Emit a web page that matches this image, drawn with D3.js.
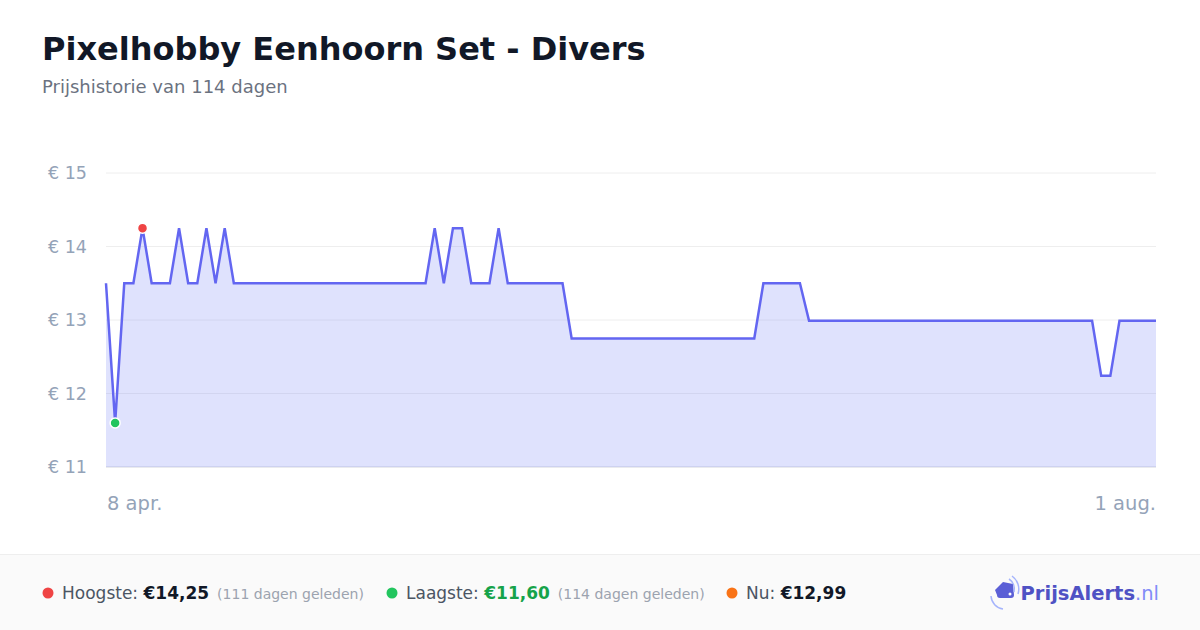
<!DOCTYPE html>
<html>
<head>
<meta charset="utf-8">
<script src="https://cdn.jsdelivr.net/npm/d3@7"></script>
<style>
  html, body { margin: 0; padding: 0; background: #ffffff; }
  svg { display: block; font-family: "DejaVu Sans", sans-serif; }
</style>
</head>
<body>
<div id="chart"></div>
<script>
// Price history, one value per day (8 apr. .. 1 aug.)
const prices = [
  13.50, 11.60, 13.50, 13.50, 14.25, 13.50, 13.50, 13.50, 14.25, 13.50,
  13.50, 14.25, 13.50, 14.25, 13.50, 13.50, 13.50, 13.50, 13.50, 13.50,
  13.50, 13.50, 13.50, 13.50, 13.50, 13.50, 13.50, 13.50, 13.50, 13.50,
  13.50, 13.50, 13.50, 13.50, 13.50, 13.50, 14.25, 13.50, 14.25, 14.25,
  13.50, 13.50, 13.50, 14.25, 13.50, 13.50, 13.50, 13.50, 13.50, 13.50,
  13.50, 12.75, 12.75, 12.75, 12.75, 12.75, 12.75, 12.75, 12.75, 12.75,
  12.75, 12.75, 12.75, 12.75, 12.75, 12.75, 12.75, 12.75, 12.75, 12.75,
  12.75, 12.75, 13.50, 13.50, 13.50, 13.50, 13.50, 12.99, 12.99, 12.99,
  12.99, 12.99, 12.99, 12.99, 12.99, 12.99, 12.99, 12.99, 12.99, 12.99,
  12.99, 12.99, 12.99, 12.99, 12.99, 12.99, 12.99, 12.99, 12.99, 12.99,
  12.99, 12.99, 12.99, 12.99, 12.99, 12.99, 12.99, 12.99, 12.99, 12.24,
  12.24, 12.99, 12.99, 12.99, 12.99, 12.99
];
const yTicks = [11, 12, 13, 14, 15];
const xLabels = ['8 apr.', '1 aug.'];

const title = 'Pixelhobby Eenhoorn Set - Divers';
const subtitle = 'Prijshistorie van 114 dagen';

const W = 1200, H = 630;
const plot = { left: 106, right: 1156, top: 173, bottom: 467 };

const svg = d3.select('#chart').append('svg')
  .attr('width', W)
  .attr('height', H);

// Title block
svg.append('text')
  .attr('x', 42).attr('y', 60)
  .attr('font-size', 32).attr('font-weight', 'bold')
  .attr('fill', '#111827')
  .text(title);

svg.append('text')
  .attr('x', 42).attr('y', 93)
  .attr('font-size', 18)
  .attr('fill', '#6b7280')
  .text(subtitle);

// Scales
const xScale = d3.scaleLinear()
  .domain([0, prices.length - 1])
  .range([plot.left, plot.right]);

const yScale = d3.scaleLinear()
  .domain([11, 15])
  .range([plot.bottom, plot.top]);

// Grid lines + y labels
const yAxis = svg.append('g');
yAxis.selectAll('line')
  .data(yTicks)
  .join('line')
  .attr('x1', plot.left).attr('x2', plot.right)
  .attr('y1', d => yScale(d)).attr('y2', d => yScale(d))
  .attr('stroke', d => d === 11 ? '#e2e3e8' : '#eeeeee')
  .attr('stroke-width', d => d === 11 ? 1.5 : 1);

yAxis.selectAll('text')
  .data(yTicks)
  .join('text')
  .attr('x', 87)
  .attr('y', d => yScale(d))
  .attr('dy', '0.35em')
  .attr('text-anchor', 'end')
  .attr('font-size', 17.5)
  .attr('fill', '#94a3b8')
  .text(d => '€ ' + d);

// Area and line
const area = d3.area()
  .x((d, i) => xScale(i))
  .y0(yScale(11))
  .y1(d => yScale(d));

const line = d3.line()
  .x((d, i) => xScale(i))
  .y(d => yScale(d));

// semi-transparent so the grid shows through, like the original
svg.append('path')
  .datum(prices)
  .attr('d', area)
  .attr('fill', '#818cf8')
  .attr('fill-opacity', 0.25);

svg.append('path')
  .datum(prices)
  .attr('d', line)
  .attr('fill', 'none')
  .attr('stroke', '#6366f1')
  .attr('stroke-width', 2.5)
  .attr('stroke-linejoin', 'miter');

// Max / min markers
const maxIdx = d3.maxIndex(prices);
const minIdx = d3.minIndex(prices);
[[maxIdx, '#ef4444'], [minIdx, '#22c55e']].forEach(([i, c]) => {
  svg.append('circle')
    .attr('cx', xScale(i))
    .attr('cy', yScale(prices[i]))
    .attr('r', 5)
    .attr('fill', c)
    .attr('stroke', '#ffffff')
    .attr('stroke-width', 1.5);
});

// X labels
svg.append('text')
  .attr('x', plot.left + 1).attr('y', 510)
  .attr('font-size', 19.5).attr('fill', '#94a3b8')
  .text(xLabels[0]);
svg.append('text')
  .attr('x', plot.right).attr('y', 510)
  .attr('text-anchor', 'end')
  .attr('font-size', 19.5).attr('fill', '#94a3b8')
  .text(xLabels[1]);

// Footer
svg.append('rect')
  .attr('x', 0).attr('y', 554)
  .attr('width', W).attr('height', H - 554)
  .attr('fill', '#fafafa');
svg.append('line')
  .attr('x1', 0).attr('x2', W)
  .attr('y1', 554.5).attr('y2', 554.5)
  .attr('stroke', '#eeeeee');

const fmt = v => '€' + v.toFixed(2).replace('.', ',');
const lastIdx = prices.length - 1;
const stats = [
  { x: 48, color: '#ef4444', label: 'Hoogste: ', value: fmt(prices[maxIdx]), valueColor: '#111827', note: '(' + (lastIdx - maxIdx) + ' dagen geleden)' },
  { x: 392, color: '#22c55e', label: 'Laagste: ', value: fmt(prices[minIdx]), valueColor: '#16a34a', note: '(' + (lastIdx - minIdx) + ' dagen geleden)' },
  { x: 732, color: '#f97316', label: 'Nu: ', value: fmt(prices[lastIdx]), valueColor: '#111827', note: '' }
];

stats.forEach(s => {
  svg.append('circle')
    .attr('cx', s.x).attr('cy', 593).attr('r', 5.5)
    .attr('fill', s.color);
  const t = svg.append('text')
    .attr('x', s.x + 14).attr('y', 599)
    .attr('font-size', 17);
  t.append('tspan').attr('fill', '#4b5563').text(s.label);
  t.append('tspan').attr('fill', s.valueColor).attr('font-weight', 'bold').text(s.value);
  if (s.note) {
    t.append('tspan').attr('dx', 8).attr('font-size', 14).attr('fill', '#9ca3af').text(s.note);
  }
});

// Logo
const logo = svg.append('g').attr('transform', 'translate(1004, 592)');
logo.append('path')
  .attr('d', 'M -9 -2 L -1 -10 L 9 -8 L 10 3 A 3 3 0 0 1 7 6 L -4 6 A 3 3 0 0 1 -7 3 Z')
  .attr('fill', '#5b5fd6');
logo.append('circle').attr('cx', 6).attr('cy', 2).attr('r', 1.5).attr('fill', '#ffffff');
logo.append('path')
  .attr('d', 'M 8 -16 A 16 16 0 0 1 14 2')
  .attr('fill', 'none').attr('stroke', '#a5b4fc').attr('stroke-width', 1.5);
logo.append('path')
  .attr('d', 'M 5 -13 A 12 12 0 0 1 10 0')
  .attr('fill', 'none').attr('stroke', '#a5b4fc').attr('stroke-width', 1.5);
logo.append('path')
  .attr('d', 'M -13 4 A 14 14 0 0 0 -1 17')
  .attr('fill', 'none').attr('stroke', '#a5b4fc').attr('stroke-width', 1.5);

const logoText = svg.append('text')
  .attr('x', 1159).attr('y', 600)
  .attr('text-anchor', 'end')
  .attr('font-size', 19.5);
logoText.append('tspan').attr('font-weight', 'bold').attr('fill', '#4f52c4').text('PrijsAlerts');
logoText.append('tspan').attr('fill', '#818cf8').text('.nl');
</script>
</body>
</html>
